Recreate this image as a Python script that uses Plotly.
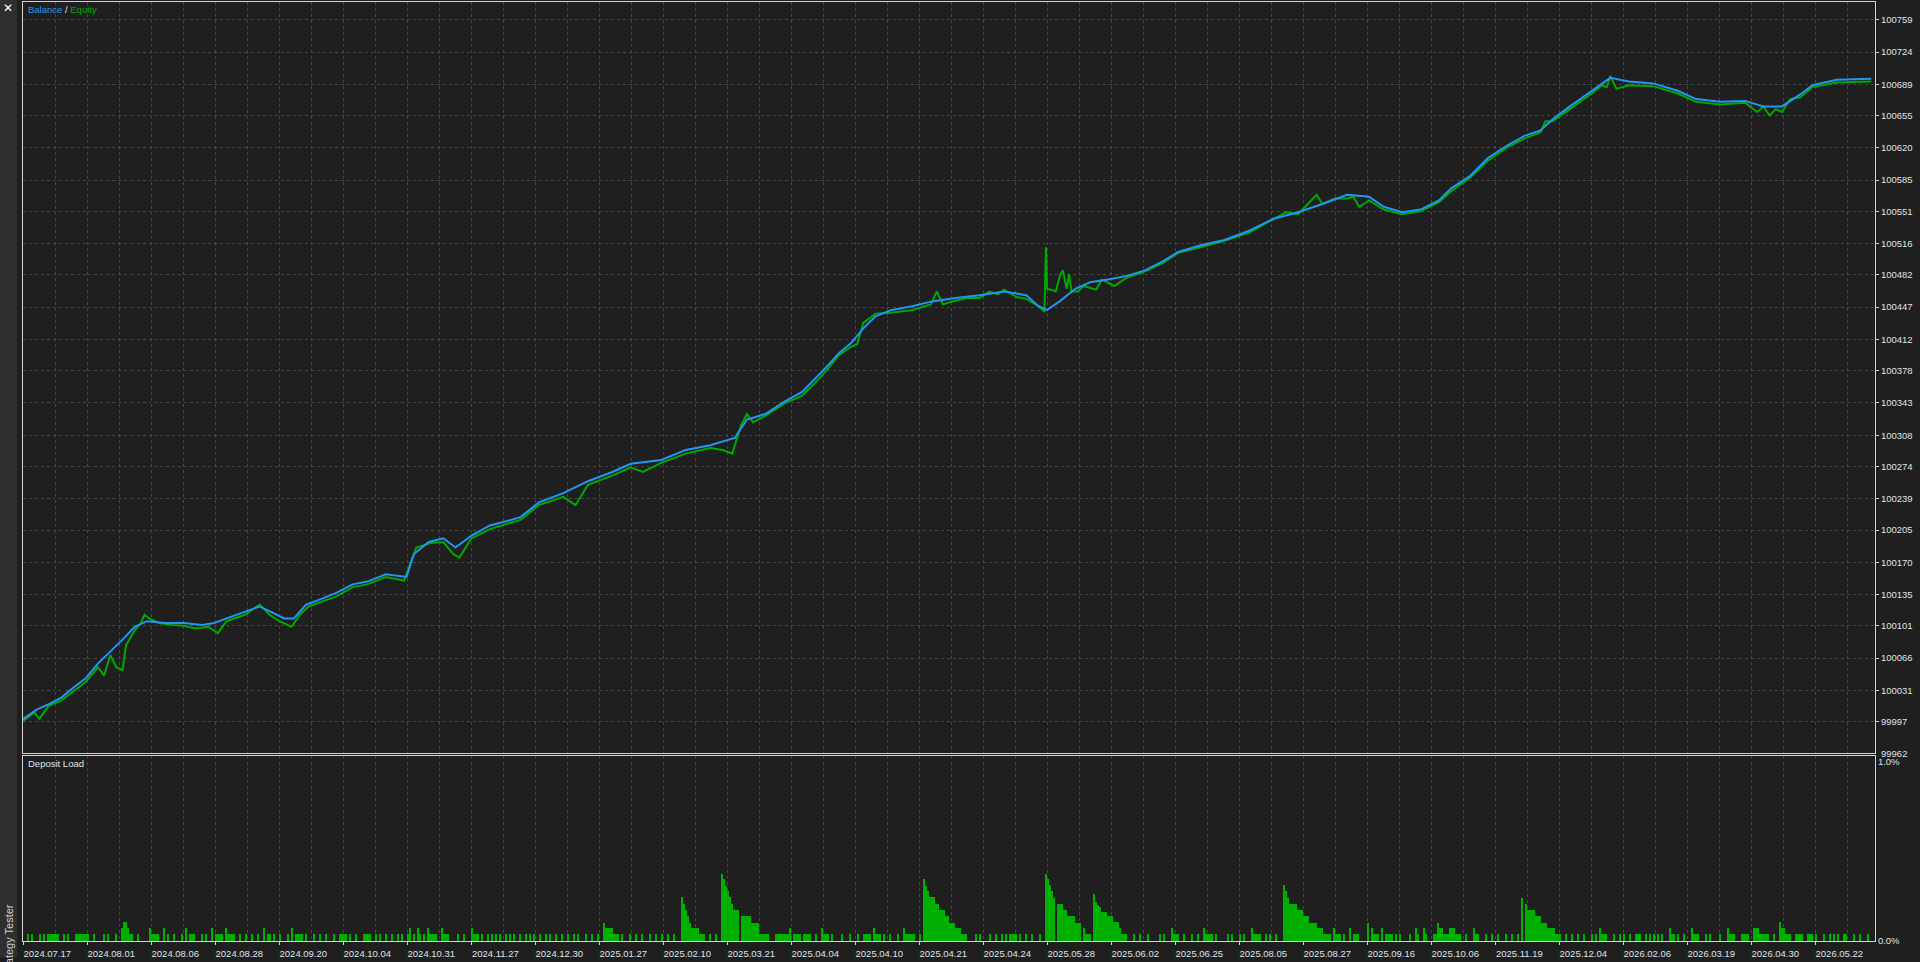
import plotly.graph_objects as go

# ---------------- data ----------------
x_labels = ["2024.07.17", "2024.08.01", "2024.08.06", "2024.08.28", "2024.09.20", "2024.10.04",
            "2024.10.31", "2024.11.27", "2024.12.30", "2025.01.27", "2025.02.10", "2025.03.21",
            "2025.04.04", "2025.04.10", "2025.04.21", "2025.04.24", "2025.05.28", "2025.06.02",
            "2025.06.25", "2025.08.05", "2025.08.27", "2025.09.16", "2025.10.06", "2025.11.19",
            "2025.12.04", "2026.02.06", "2026.03.19", "2026.04.30", "2026.05.22"]
label_deals = [0, 32, 64, 96, 128, 160, 192, 224, 256, 288, 320, 352, 384, 416, 448, 480,
               512, 544, 576, 608, 640, 672, 704, 736, 768, 800, 832, 864, 896]
grid_deals = [0, 16, 32, 48, 64, 80, 96, 112, 128, 144, 160, 176, 192, 208, 224, 240, 256, 272,
              288, 304, 320, 336, 352, 368, 384, 400, 416, 432, 448, 464, 480, 496, 512, 528, 544,
              560, 576, 592, 608, 624, 640, 656, 672, 688, 704, 720, 736, 752, 768, 784, 800, 816,
              832, 848, 864, 880, 896, 912]
y_ticks = [99962, 99997, 100031, 100066, 100101, 100135, 100170, 100205, 100239, 100274, 100308,
           100343, 100378, 100412, 100447, 100482, 100516, 100551, 100585, 100620, 100655, 100689,
           100724, 100759]

balance_deal = [0, 6.7, 12.8, 19.0, 25.1, 31.2, 37.3, 43.5, 49.6, 55.7, 61.8, 71.0, 80.2, 89.4, 95.5,
                101.6, 110.8, 118.2, 123.1, 130.4, 135.3, 141.4, 148.8, 156.7, 164.7, 172.0, 181.2,
                191.6, 195.3, 202.7, 210.0, 216.1, 224.1, 233.3, 242.4, 248.6, 257.8, 270.0, 282.3,
                294.5, 303.7, 319.0, 331.2, 343.5, 355.7, 361.8, 371.0, 380.2, 389.4, 395.5, 401.6,
                407.8, 413.9, 420.0, 426.1, 434.1, 444.5, 453.7, 465.9, 478.2, 490.4, 501.5, 507.6,
                511.9, 518.0, 526.0, 533.3, 542.5, 551.7, 560.8, 570.0, 577.4, 588.4, 600.6, 612.9,
                625.1, 637.4, 649.6, 661.9, 672.9, 680.2, 689.4, 698.6, 707.8, 713.9, 723.1, 732.3,
                741.5, 750.6, 758.6, 764.7, 773.3, 784.3, 793.5, 802.7, 814.9, 827.2, 836.4, 848.6,
                860.9, 870.1, 879.3, 888.5, 894.6, 906.8, 924.0]
balance = [100000, 100010, 100016, 100023, 100034, 100044, 100060, 100073, 100086, 100100, 100106,
           100104, 100104, 100102, 100104, 100109, 100116, 100122, 100117, 100109, 100109, 100124,
           100130, 100137, 100146, 100149, 100157, 100154, 100179, 100192, 100196, 100186, 100199,
           100210, 100215, 100219, 100235, 100245, 100258, 100268, 100277, 100281, 100292, 100297,
           100305, 100325, 100331, 100344, 100355, 100368, 100382, 100397, 100408, 100424, 100437,
           100444, 100448, 100453, 100457, 100460, 100464, 100460, 100448, 100444, 100453, 100467,
           100474, 100477, 100481, 100487, 100497, 100507, 100514, 100520, 100530, 100543, 100550,
           100559, 100569, 100567, 100556, 100550, 100553, 100563, 100576, 100589, 100609, 100622,
           100633, 100639, 100651, 100665, 100682, 100696, 100692, 100690, 100682, 100673, 100670,
           100671, 100665, 100665, 100678, 100688, 100694, 100695]

equity_deal = [0, 5.5, 8.0, 12.8, 19.0, 25.1, 31.2, 37.3, 40.4, 43.5, 46.5, 49.6, 51.4, 55.7, 58.8,
               60.6, 63.0, 67.9, 74.1, 80.2, 86.3, 92.4, 97.3, 101.6, 110.8, 118.2, 123.1, 128.0,
               134.1, 138.4, 142.6, 148.8, 156.7, 164.7, 172.0, 181.2, 190.4, 196.5, 203.9, 210.0,
               214.9, 218.0, 224.1, 233.3, 242.4, 248.6, 257.8, 270.0, 276.1, 282.3, 294.5, 303.7,
               309.8, 319.0, 331.2, 343.5, 349.6, 354.5, 358.8, 361.8, 364.9, 371.0, 380.2, 389.4,
               395.5, 401.6, 407.8, 413.9, 417.0, 420.0, 426.1, 434.1, 444.5, 453.7, 456.8, 459.8,
               465.9, 472.1, 478.2, 483.1, 487.4, 490.4, 496.6, 501.5, 507.6, 510.6, 511.3, 511.9,
               513.7, 516.2, 518.6, 519.8, 521.7, 522.9, 524.1, 527.2, 530.2, 536.4, 539.4, 542.5,
               545.5, 551.7, 560.8, 570.0, 577.4, 588.4, 600.6, 612.9, 625.1, 628.2, 631.3, 637.4,
               646.6, 649.6, 655.8, 661.9, 665.0, 668.0, 672.9, 680.2, 689.4, 698.6, 707.8, 713.9,
               723.1, 732.3, 741.5, 750.6, 758.6, 761.1, 764.7, 773.3, 784.3, 789.2, 791.7, 793.5,
               796.6, 802.7, 814.9, 827.2, 836.4, 848.6, 860.9, 867.0, 870.1, 873.1, 876.2, 879.3,
               883.5, 888.5, 894.6, 906.8, 924.0]
equity = [99998, 100007, 100000, 100014, 100020, 100030, 100040, 100056, 100047, 100069, 100056,
          100053, 100080, 100096, 100104, 100113, 100109, 100104, 100102, 100101, 100098, 100100,
          100093, 100106, 100113, 100124, 100113, 100106, 100100, 100113, 100122, 100127, 100133,
          100143, 100146, 100154, 100150, 100186, 100191, 100192, 100179, 100175, 100196, 100206,
          100212, 100216, 100232, 100241, 100232, 100254, 100264, 100273, 100268, 100278, 100288,
          100294, 100292, 100288, 100318, 100331, 100322, 100329, 100342, 100351, 100364, 100378,
          100395, 100404, 100407, 100430, 100440, 100441, 100444, 100450, 100464, 100450, 100454,
          100457, 100457, 100464, 100461, 100466, 100458, 100456, 100448, 100442, 100512, 100467,
          100466, 100464, 100483, 100487, 100467, 100483, 100464, 100464, 100470, 100466, 100477,
          100473, 100470, 100479, 100486, 100495, 100506, 100512, 100519, 100528, 100542, 100546,
          100550, 100548, 100569, 100559, 100565, 100565, 100567, 100556, 100563, 100553, 100548,
          100551, 100561, 100573, 100587, 100606, 100620, 100630, 100637, 100649, 100649, 100662,
          100679, 100688, 100686, 100698, 100684, 100688, 100687, 100679, 100670, 100667, 100669,
          100659, 100665, 100655, 100662, 100659, 100673, 100675, 100686, 100691, 100692]

# deposit load per deal: (deal number, load %)
deposit_load = [
    (2, .04), (4, .04), (8, .04), (10, .04), (12, .04), (13, .04), (14, .04), (15, .04), (16, .04),
    (17, .04), (20, .04), (22, .04), (26, .04), (27, .04), (28, .04), (29, .04), (30, .04), (31, .04),
    (32, .04), (35, .04), (40, .04), (42, .04), (46, .04), (49, .07), (50, .105), (51, .105),
    (52, .07), (53, .04), (54, .04), (57, .04), (63, .07), (64, .04), (65, .04), (66, .04), (67, .04),
    (70, .07), (72, .04), (75, .04), (79, .04), (81, .07), (83, .04), (84, .04), (85, .04), (89, .04),
    (91, .04), (94, .07), (96, .04), (97, .04), (98, .04), (99, .04), (101, .07), (102, .04),
    (103, .04), (104, .04), (105, .04), (108, .04), (111, .04), (114, .04), (117, .04), (120, .07),
    (122, .04), (123, .04), (125, .04), (128, .04), (132, .04), (134, .07), (136, .04), (137, .04),
    (138, .04), (139, .04), (141, .04), (145, .04), (148, .04), (151, .04), (155, .04), (158, .04),
    (159, .04), (160, .04), (161, .04), (163, .04), (166, .04), (170, .04), (171, .04), (172, .04),
    (173, .04), (176, .04), (178, .04), (181, .04), (184, .04), (187, .04), (189, .04), (192, .04),
    (193, .07), (195, .04), (197, .07), (198, .04), (200, .04), (202, .07), (203, .04), (204, .04),
    (205, .04), (206, .04), (209, .07), (210, .04), (211, .04), (212, .04), (217, .04), (220, .04),
    (224, .07), (225, .04), (226, .04), (227, .04), (229, .04), (232, .04), (234, .04), (236, .04),
    (238, .04), (241, .04), (243, .04), (245, .04), (248, .04), (251, .04), (253, .04), (255, .04),
    (258, .04), (261, .04), (263, .04), (266, .04), (269, .04), (272, .04), (275, .04), (277, .04),
    (281, .04), (284, .04), (287, .04), (290, .103), (291, .07), (292, .07), (293, .07), (294, .07),
    (295, .04), (296, .04), (297, .04), (299, .04), (303, .04), (306, .04), (309, .04), (313, .04),
    (316, .04), (319, .04), (322, .04), (325, .04), (329, .243), (330, .204), (331, .171),
    (332, .138), (333, .103), (334, .07), (335, .07), (336, .07), (337, .07), (338, .04), (339, .04),
    (340, .04), (343, .04), (346, .04), (349, .376), (350, .344), (351, .309), (352, .276),
    (353, .243), (354, .204), (355, .171), (356, .171), (357, .171), (359, .138), (360, .138),
    (361, .138), (362, .138), (363, .138), (364, .103), (365, .103), (366, .103), (367, .103),
    (368, .04), (369, .04), (370, .04), (371, .04), (372, .04), (376, .04), (377, .04), (378, .04),
    (379, .04), (380, .04), (381, .04), (382, .04), (383, .07), (385, .04), (386, .04), (387, .04),
    (388, .04), (390, .04), (391, .04), (392, .04), (393, .04), (396, .04), (399, .07), (400, .04),
    (401, .04), (402, .04), (404, .04), (409, .04), (413, .04), (417, .04), (420, .04), (421, .04),
    (422, .04), (423, .04), (425, .07), (426, .04), (427, .04), (428, .04), (430, .04), (433, .04),
    (437, .04), (440, .07), (441, .04), (442, .04), (443, .04), (444, .04), (445, .04), (448, .04),
    (450, .344), (451, .309), (452, .276), (453, .243), (454, .243), (455, .243), (456, .204),
    (457, .204), (458, .171), (459, .171), (460, .171), (461, .138), (462, .138), (463, .103),
    (464, .103), (465, .103), (466, .07), (467, .07), (468, .07), (469, .04), (470, .04), (471, .04),
    (476, .04), (478, .04), (483, .04), (486, .04), (489, .04), (491, .04), (493, .04), (494, .04),
    (495, .04), (496, .04), (498, .04), (501, .04), (504, .04), (508, .04), (511, .376), (512, .344),
    (513, .31), (514, .276), (515, .24), (517, .204), (518, .204), (519, .204), (520, .171),
    (521, .171), (522, .138), (523, .138), (524, .138), (525, .138), (526, .103), (527, .103),
    (528, .103), (530, .07), (531, .04), (532, .04), (533, .04), (535, .26), (536, .22), (537, .2),
    (538, .19), (539, .16), (540, .16), (541, .16), (542, .138), (543, .138), (544, .138),
    (545, .107), (546, .107), (547, .107), (548, .07), (549, .04), (550, .04), (551, .04), (555, .04),
    (558, .04), (562, .04), (568, .04), (570, .04), (574, .07), (575, .04), (576, .04), (577, .04),
    (580, .04), (584, .04), (587, .04), (590, .07), (591, .04), (592, .04), (593, .04), (594, .04),
    (596, .04), (602, .04), (604, .04), (608, .04), (610, .04), (614, .07), (615, .04), (616, .04),
    (617, .04), (618, .04), (621, .04), (623, .04), (626, .04), (630, .31), (631, .276), (632, .24),
    (633, .204), (634, .204), (635, .204), (636, .204), (637, .171), (638, .171), (639, .171),
    (640, .138), (641, .138), (642, .138), (643, .103), (644, .103), (645, .103), (646, .103),
    (647, .07), (648, .07), (649, .07), (650, .04), (651, .04), (652, .04), (653, .04), (655, .07),
    (656, .04), (657, .04), (658, .04), (660, .04), (663, .07), (665, .04), (666, .04), (667, .04),
    (672, .103), (674, .07), (675, .04), (676, .04), (677, .04), (679, .07), (681, .04), (682, .04),
    (683, .04), (684, .04), (686, .04), (688, .04), (693, .04), (696, .07), (697, .04), (700, .07),
    (701, .04), (705, .04), (706, .04), (707, .103), (708, .07), (709, .07), (710, .04), (711, .04),
    (712, .04), (713, .07), (714, .07), (715, .07), (716, .04), (717, .04), (718, .04), (721, .04),
    (725, .07), (726, .04), (727, .04), (731, .04), (734, .04), (737, .04), (741, .04), (744, .04),
    (747, .04), (749, .24), (751, .204), (752, .171), (753, .171), (754, .171), (755, .171),
    (756, .138), (757, .138), (758, .138), (759, .103), (760, .103), (761, .103), (762, .07),
    (763, .07), (764, .07), (765, .07), (766, .04), (767, .04), (768, .04), (771, .04), (774, .04),
    (777, .04), (780, .04), (784, .04), (786, .04), (788, .07), (789, .04), (790, .04), (791, .04),
    (795, .04), (798, .04), (800, .04), (803, .04), (806, .04), (807, .04), (808, .04), (811, .04),
    (813, .04), (815, .04), (817, .04), (819, .04), (823, .07), (824, .04), (825, .04), (827, .04),
    (830, .04), (834, .07), (835, .04), (836, .04), (837, .04), (841, .04), (843, .04), (848, .04),
    (852, .07), (853, .04), (854, .04), (855, .04), (859, .04), (860, .04), (861, .04), (862, .04),
    (865, .07), (866, .07), (867, .07), (868, .04), (869, .04), (870, .04), (871, .04), (872, .04),
    (875, .04), (878, .105), (879, .07), (880, .07), (881, .04), (882, .04), (883, .04), (886, .04),
    (887, .04), (888, .04), (889, .04), (892, .04), (893, .04), (894, .04), (896, .04), (900, .04),
    (903, .04), (905, .04), (907, .04), (910, .04), (911, .04), (915, .04), (918, .04), (922, .04),
]
load_deal = [d for d, _ in deposit_load]
load_pct = [v for _, v in deposit_load]

# ---------------- styling ----------------
W, H = 1920, 962
BG = "#1f1f1f"
GRID = "#474747"
LINE = "#d4d4d4"
TXT = "#dfe3e8"
FONT = "Liberation Sans"
BLUE = "#2196f3"
GREEN = "#00a800"
BAR_GREEN = "#00b000"

def px_x(p):
    return p / W

def px_y(p):
    return 1 - p / H

x_dom = [px_x(22.5), px_x(1875)]
x_rng = [-0.4, 925.85]

fig = go.Figure()
fig.add_trace(go.Scatter(x=equity_deal, y=equity, mode="lines",
                         line=dict(color=GREEN, width=2), xaxis="x", yaxis="y", hoverinfo="skip"))
fig.add_trace(go.Scatter(x=balance_deal, y=balance, mode="lines",
                         line=dict(color=BLUE, width=2), xaxis="x", yaxis="y", hoverinfo="skip"))
fig.add_trace(go.Bar(x=load_deal, y=load_pct, width=1, marker=dict(color=BAR_GREEN, line=dict(width=0)),
                     xaxis="x2", yaxis="y2", hoverinfo="skip"))

axis_common = dict(showline=True, mirror=True, linecolor=LINE, linewidth=1, zeroline=False,
                   tickfont=dict(family=FONT, size=9.5, color=TXT))

fig.update_layout(
    width=W, height=H, margin=dict(l=0, r=0, t=0, b=0),
    paper_bgcolor=BG, plot_bgcolor=BG, showlegend=False, bargap=0,
    xaxis=dict(domain=x_dom, range=x_rng, anchor="y", tickvals=grid_deals, showticklabels=False,
               ticks="", showgrid=True, gridcolor=GRID, griddash="3px,3px", gridwidth=1, **axis_common),
    yaxis=dict(domain=[px_y(757), px_y(2)], range=[99962.8, 100778.4], anchor="x", side="right",
               tickvals=y_ticks[1:], ticktext=[str(v) for v in y_ticks[1:]],
               ticks="outside", ticklen=3, tickcolor=LINE,
               showgrid=True, gridcolor=GRID, griddash="3px,3px", gridwidth=1, **axis_common),
    xaxis2=dict(domain=x_dom, range=x_rng, anchor="y2", tickvals=label_deals, ticktext=x_labels,
                ticks="outside", ticklen=3, tickcolor=LINE, ticklabelshift=24, ticklabelstandoff=1,
                showgrid=True, gridcolor=GRID, griddash="3px,3px", gridwidth=1,
                minor=dict(tickvals=grid_deals, showgrid=True, gridcolor=GRID, griddash="3px,3px",
                           gridwidth=1, ticks=""),
                **axis_common),
    yaxis2=dict(domain=[px_y(946), px_y(760)], range=[0, 1.0304], anchor="x2", side="right",
                tickvals=[0, 1], ticktext=["0.0%", "1.0%"], ticks="", showgrid=False, **axis_common),
)

fig.add_shape(type="rect", xref="paper", yref="paper", x0=0, x1=px_x(17), y0=0, y1=1,
              fillcolor="#2f2f2f", line=dict(width=0), layer="above")

ann_font = dict(family=FONT, size=9.5, color=TXT)
fig.add_annotation(xref="paper", yref="paper", x=px_x(26), y=px_y(10), xanchor="left", yanchor="middle",
                   showarrow=False, font=ann_font,
                   text=f"<span style='color:{BLUE}'>Balance</span> / <span style='color:{GREEN}'>Equity</span>")
fig.add_annotation(xref="paper", yref="paper", x=px_x(26), y=px_y(767.5), xanchor="left",
                   yanchor="middle", showarrow=False, font=ann_font, text="Deposit Load")
fig.add_annotation(xref="paper", yref="paper", x=px_x(1879), y=px_y(757), xanchor="left",
                   yanchor="middle", showarrow=False, font=ann_font, text=str(y_ticks[0]))
fig.add_annotation(xref="paper", yref="paper", x=px_x(8), y=px_y(8), xanchor="center", yanchor="middle",
                   showarrow=False, font=dict(family="DejaVu Sans", size=12, color="#ffffff"), text="✕")
fig.add_annotation(xref="paper", yref="paper", x=px_x(9), y=px_y(907), xanchor="center", yanchor="top",
                   textangle=-90, showarrow=False, font=dict(family=FONT, size=11, color="#cfcfcf"),
                   text="Strategy Tester")

fig.write_html("out.html", config={"displayModeBar": False},
               post_script="document.body.style.margin='0';document.body.style.overflow='hidden';")
